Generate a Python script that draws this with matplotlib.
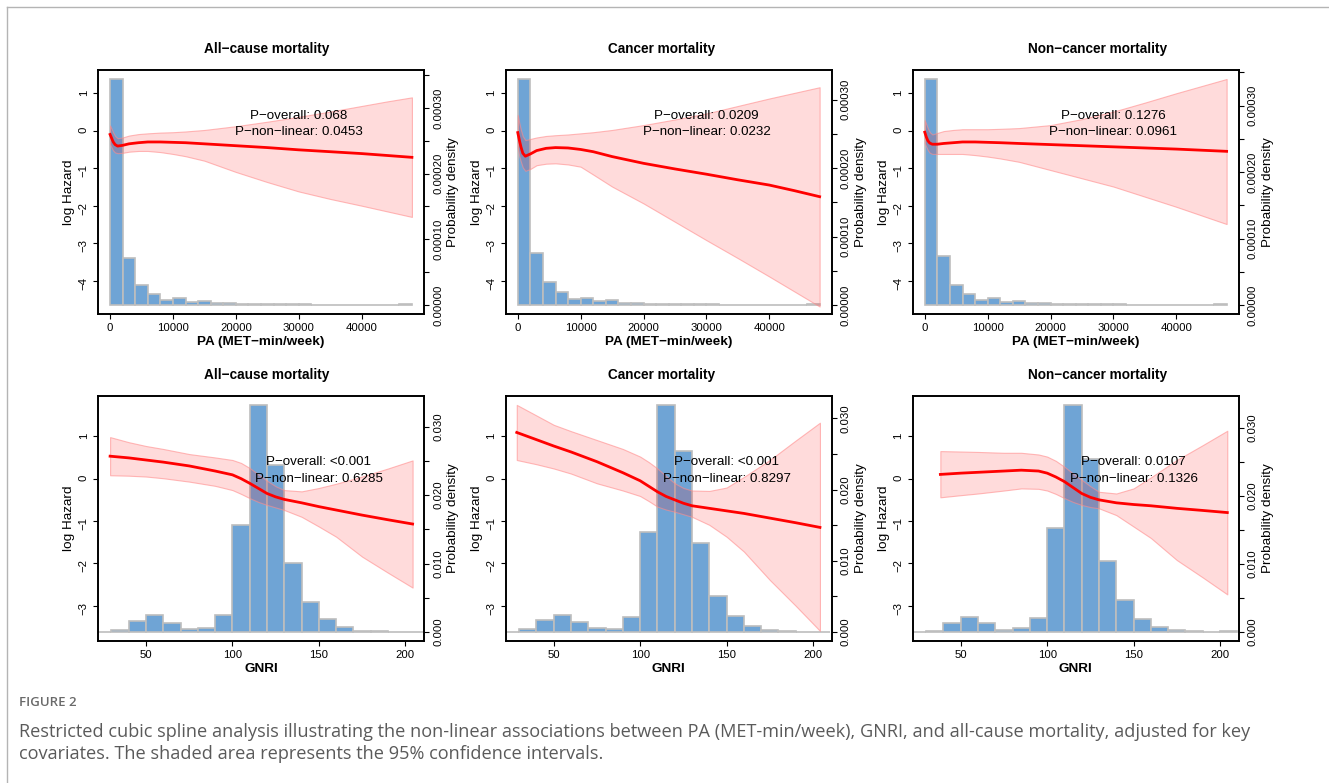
import numpy as np
import matplotlib
matplotlib.use('Agg')
import matplotlib.pyplot as plt
from matplotlib.lines import Line2D
from matplotlib.ticker import FuncFormatter

plt.rcParams['font.family'] = ['Liberation Sans', 'DejaVu Sans']

# ---------------- data ----------------
titles = ['All\u2212cause mortality', 'Cancer mortality', 'Non\u2212cancer mortality']

# PA histogram (bin width 2000, 0 - 48000), probability density
pa_edges = np.arange(0, 48000, 2000)
pa_dens_all = [3.44e-4, 7.16e-5, 3.08e-5, 1.71e-5, 7.1e-6, 1.01e-5, 5.0e-6, 6.6e-6, 3.0e-6, 3.0e-6,
               2.0e-6, 2.0e-6, 1.0e-6, 1.0e-6, 1.0e-6, 1.0e-6, 6e-7, 6e-7, 5e-7, 5e-7, 5e-7, 5e-7, 5e-7, 1.0e-6]
pa_dens_cancer = [3.30e-4, 7.6e-5, 3.39e-5, 1.89e-5, 8.2e-6, 1.06e-5, 5.8e-6, 7.3e-6, 3.4e-6, 3.4e-6,
                  2.0e-6, 2.0e-6, 1.0e-6, 1.0e-6, 1.0e-6, 1.0e-6, 6e-7, 6e-7, 5e-7, 5e-7, 5e-7, 5e-7, 5e-7, 1.0e-6]
pa_dens_noncancer = [3.40e-4, 7.37e-5, 3.04e-5, 1.69e-5, 7.0e-6, 1.1e-5, 5.0e-6, 6.0e-6, 3.0e-6, 3.0e-6,
                     2.0e-6, 2.0e-6, 1.0e-6, 1.0e-6, 1.0e-6, 1.0e-6, 6e-7, 6e-7, 5e-7, 5e-7, 5e-7, 5e-7, 5e-7, 1.0e-6]

# PA spline (log hazard with 95% CI)
pa_x = [0, 250, 500, 800, 1200, 2000, 3000, 4500, 6000, 8000, 10000, 12000, 15000, 20000,
        25000, 30000, 35000, 40000, 44000, 48000]
pa_fit_all = [-0.10, -0.20, -0.30, -0.37, -0.41, -0.39, -0.35, -0.32, -0.30, -0.30, -0.31, -0.32, -0.35, -0.40,
              -0.45, -0.51, -0.56, -0.61, -0.66, -0.71]
pa_hi_all = [0.14, 0.05, -0.05, -0.14, -0.20, -0.18, -0.13, -0.09, -0.07, -0.05, -0.04, -0.02, 0.02, 0.12,
             0.24, 0.37, 0.51, 0.66, 0.78, 0.89]
pa_lo_all = [-0.36, -0.45, -0.53, -0.58, -0.60, -0.59, -0.56, -0.54, -0.54, -0.57, -0.62, -0.68, -0.80, -1.10,
             -1.37, -1.62, -1.82, -2.00, -2.15, -2.30]
pa_fit_cancer = [-0.05, -0.25, -0.43, -0.60, -0.68, -0.62, -0.53, -0.47, -0.45, -0.46, -0.50, -0.56, -0.69, -0.87,
                 -1.02, -1.16, -1.31, -1.45, -1.60, -1.76]
pa_hi_cancer = [0.42, 0.20, 0.02, -0.15, -0.25, -0.22, -0.18, -0.14, -0.12, -0.10, -0.07, -0.04, 0.02, 0.15,
                0.30, 0.46, 0.66, 0.86, 1.01, 1.16]
pa_lo_cancer = [-0.47, -0.68, -0.83, -0.98, -1.07, -1.02, -0.92, -0.88, -0.87, -0.90, -0.96, -1.17, -1.49, -1.94,
                -2.43, -2.92, -3.40, -3.89, -4.29, -4.69]
pa_fit_noncancer = [-0.04, -0.17, -0.27, -0.33, -0.36, -0.36, -0.34, -0.32, -0.30, -0.30, -0.31, -0.32, -0.34, -0.37,
                    -0.40, -0.43, -0.46, -0.49, -0.52, -0.55]
pa_hi_noncancer = [0.28, 0.17, 0.06, -0.04, -0.10, -0.06, -0.01, 0.02, 0.04, 0.04, 0.04, 0.05, 0.07, 0.15,
                   0.31, 0.51, 0.75, 1.00, 1.19, 1.38]
pa_lo_noncancer = [-0.34, -0.43, -0.52, -0.59, -0.62, -0.62, -0.62, -0.62, -0.62, -0.65, -0.69, -0.74, -0.83, -1.05,
                   -1.27, -1.49, -1.76, -2.03, -2.26, -2.49]

# GNRI histogram (bin width 10, 20 - 210)
gnri_edges = np.arange(20, 210, 10)
gnri_dens_all = [0, 0.00034, 0.0016, 0.00253, 0.00131, 0.00044, 0.00063, 0.00248, 0.01561, 0.03317,
                 0.02447, 0.01002, 0.00433, 0.0019, 0.00073, 0.0002, 0.0001, 0.00005, 0.00005]
gnri_dens_cancer = [0, 0.000375, 0.00173, 0.00234, 0.00141, 0.00061, 0.00047, 0.00211, 0.01397, 0.03187,
                    0.0254, 0.01256, 0.00511, 0.0022, 0.00084, 0.00023, 0.0001, 0.00005, 0.00005]
gnri_dens_noncancer = [0, 0.00015, 0.00127, 0.0022, 0.00132, 0.00034, 0.00064, 0.0021, 0.0152, 0.03333,
                       0.0254, 0.0104, 0.00466, 0.00186, 0.00074, 0.00025, 0.0001, 0.00005, 0.00015]

# GNRI spline
gnri_x_all = [29.2, 40, 50, 60, 75, 90, 100, 105, 110, 115, 120, 125, 130, 140, 150, 160, 175, 190, 204.2]
gnri_fit_all = [0.53, 0.49, 0.44, 0.39, 0.30, 0.18, 0.09, 0.00, -0.11, -0.23, -0.35, -0.43, -0.49, -0.57,
                -0.66, -0.74, -0.86, -0.97, -1.07]
gnri_hi_all = [0.98, 0.86, 0.77, 0.70, 0.58, 0.50, 0.44, 0.37, 0.25, 0.10, -0.05, -0.18, -0.27, -0.30,
               -0.22, -0.12, 0.05, 0.24, 0.43]
gnri_lo_all = [0.08, 0.07, 0.05, 0.01, -0.07, -0.17, -0.27, -0.36, -0.46, -0.55, -0.62, -0.68, -0.74, -0.90,
               -1.13, -1.37, -1.84, -2.22, -2.57]
gnri_x_cancer = [28.6, 40, 50, 60, 75, 90, 100, 105, 110, 115, 120, 125, 130, 140, 150, 160, 175, 190, 204.0]
gnri_fit_cancer = [1.09, 0.92, 0.77, 0.63, 0.40, 0.14, -0.05, -0.18, -0.31, -0.42, -0.50, -0.58, -0.64, -0.70,
                   -0.76, -0.82, -0.93, -1.04, -1.15]
gnri_hi_cancer = [1.74, 1.49, 1.27, 1.12, 0.91, 0.70, 0.52, 0.39, 0.24, 0.06, -0.11, -0.22, -0.28, -0.29,
                  -0.21, 0.04, 0.44, 0.90, 1.32]
gnri_lo_cancer = [0.44, 0.34, 0.24, 0.12, -0.11, -0.28, -0.41, -0.53, -0.66, -0.73, -0.78, -0.84, -0.90, -1.09,
                  -1.37, -1.72, -2.39, -3.00, -3.59]
gnri_x_noncancer = [38.2, 50, 60, 75, 85, 95, 100, 105, 110, 115, 120, 125, 130, 140, 150, 160, 175, 190, 204.2]
gnri_fit_noncancer = [0.10, 0.13, 0.15, 0.18, 0.20, 0.18, 0.13, 0.04, -0.07, -0.21, -0.35, -0.44, -0.50, -0.57,
                      -0.61, -0.64, -0.70, -0.75, -0.80]
gnri_hi_noncancer = [0.65, 0.64, 0.63, 0.61, 0.61, 0.57, 0.52, 0.42, 0.28, 0.12, -0.03, -0.18, -0.31, -0.35,
                     -0.23, 0.03, 0.44, 0.79, 1.13]
gnri_lo_noncancer = [-0.44, -0.39, -0.35, -0.28, -0.23, -0.24, -0.28, -0.36, -0.46, -0.55, -0.62, -0.67, -0.70,
                     -0.86, -1.13, -1.40, -1.92, -2.33, -2.73]

p_overall_pa = ['0.068', '0.0209', '0.1276']
p_nonlin_pa = ['0.0453', '0.0232', '0.0961']
p_overall_gnri = ['<0.001', '<0.001', '0.0107']
p_nonlin_gnri = ['0.6285', '0.8297', '0.1326']

# ---------------- figure ----------------
W, H = 1329, 783
fig = plt.figure(figsize=(W / 100, H / 100), dpi=100)

col_left = [98, 505.7, 912.7]
ax_w = 326
title_x = [266.8, 662, 1097.5]

BAR = '#6FA4D5'
BAR_EDGE = '#BEBEBE'


def panel(px_left, px_top, px_h, edges, bw, dens, xs, fit, lo, hi, xlim, ylim, yticks,
          dstep, dfmt, xticks, xlabel, title, tx, p1, p2, ptx, pty, title_px):
    pos = [px_left / W, 1 - (px_top + px_h) / H, ax_w / W, px_h / H]
    ax = fig.add_axes(pos)
    ax2 = ax.twinx()

    # histogram on the right-hand (density) axis
    ax.bar(edges, dens, width=bw, align='edge', color=BAR, edgecolor=BAR_EDGE, linewidth=1.2)
    m = max(dens)
    ax.set_ylim(-0.04 * m, 1.04 * m)
    ax.set_xlim(*xlim)
    ax.yaxis.tick_right()
    ax.yaxis.set_label_position('right')
    ax.set_yticks(np.arange(0, 1.04 * m, dstep))
    ax.yaxis.set_major_formatter(FuncFormatter(
        lambda v, p: (dfmt % v) if int(round(v / dstep)) % 2 == 0 else ''))
    ax.set_xticks(xticks)
    ax.tick_params(axis='both', direction='out', length=3.6, width=0.8, labelsize=8.2, pad=3)
    ax.tick_params(axis='y', labelrotation=90)
    for lab in ax.get_yticklabels():
        lab.set_va('center')
    ax.set_ylabel('Probability density', fontsize=9.7)
    ax.yaxis.set_label_coords(1 + 29 / ax_w, 0.5)
    ax.yaxis.label.set_va('center')
    ax.set_xlabel(xlabel, fontsize=9.7, fontweight='bold')
    ax.xaxis.set_label_coords(0.5, -27.7 / px_h)
    ax.xaxis.label.set_va('center')

    # spline on the left-hand (log hazard) axis
    ax2.yaxis.tick_left()
    ax2.yaxis.set_label_position('left')
    ax2.fill_between(xs, lo, hi, facecolor=(1, 0, 0, 0.14), edgecolor=(1, 0.55, 0.55, 0.6), linewidth=0.8)
    ax2.plot(xs, fit, color='red', lw=2)
    ax2.set_ylim(*ylim)
    ax2.set_yticks(yticks)
    ax2.tick_params(axis='y', direction='out', length=3.6, width=0.8, labelsize=8.2, pad=3, labelrotation=90)
    ax2.set_ylabel('log Hazard', fontsize=9.7)
    ax2.yaxis.set_label_coords(-29 / ax_w, 0.5)
    ax2.yaxis.label.set_va('center')
    ax2.text(ptx, pty[0], 'P\u2212overall: ' + p1, ha='center', va='center', fontsize=9.6)
    ax2.text(ptx, pty[1], 'P\u2212non\u2212linear: ' + p2, ha='center', va='center', fontsize=9.6)

    for a in (ax, ax2):
        for s in a.spines.values():
            s.set_linewidth(1.2)
            s.set_color('black')

    fig.text(tx / W, 1 - title_px / H, title, ha='center', va='center', fontsize=9.8, fontweight='bold')


pa_dens = [pa_dens_all, pa_dens_cancer, pa_dens_noncancer]
pa_fits = [(pa_fit_all, pa_lo_all, pa_hi_all), (pa_fit_cancer, pa_lo_cancer, pa_hi_cancer),
           (pa_fit_noncancer, pa_lo_noncancer, pa_hi_noncancer)]
for i in range(3):
    f, l, h = pa_fits[i]
    panel(col_left[i], 70, 244, pa_edges, 2000, pa_dens[i], pa_x, f, l, h,
          (-1920, 49920), (-4.89, 1.62), [-4, -3, -2, -1, 0, 1],
          0.00005, '%.5f', [0, 10000, 20000, 30000, 40000], 'PA (MET\u2212min/week)',
          titles[i], title_x[i], p_overall_pa[i], p_nonlin_pa[i], 30000, (0.39, -0.03), 49.3)

gnri_dens = [gnri_dens_all, gnri_dens_cancer, gnri_dens_noncancer]
gnri_fits = [(gnri_x_all, gnri_fit_all, gnri_lo_all, gnri_hi_all),
             (gnri_x_cancer, gnri_fit_cancer, gnri_lo_cancer, gnri_hi_cancer),
             (gnri_x_noncancer, gnri_fit_noncancer, gnri_lo_noncancer, gnri_hi_noncancer)]
for i in range(3):
    x, f, l, h = gnri_fits[i]
    panel(col_left[i], 396, 245, gnri_edges, 10, gnri_dens[i], x, f, l, h,
          (22.2, 210.8), (-3.83, 1.95), [-3, -2, -1, 0, 1],
          0.005, '%.3f', [50, 100, 150, 200], 'GNRI',
          titles[i], title_x[i], p_overall_gnri[i], p_nonlin_gnri[i], 150, (0.39, -0.01), 375)

# frame lines and caption
fig.add_artist(Line2D([7 / W, 1], [1 - 7 / H, 1 - 7 / H], color='#b4b4b4', lw=1))
fig.add_artist(Line2D([7 / W, 7 / W], [0, 1 - 7 / H], color='#b4b4b4', lw=1))
cap_font = ['Open Sans', 'DejaVu Sans']
fig.text(19 / W, 1 - 703 / H, 'FIGURE 2', ha='left', va='center', fontsize=9.5,
         color='#6a6a6a', family=cap_font, fontweight='semibold')
fig.text(19 / W, 1 - 732 / H,
         'Restricted cubic spline analysis illustrating the non-linear associations between PA (MET-min/week), '
         'GNRI, and all-cause mortality, adjusted for key',
         ha='left', va='center', fontsize=13.1, color='#5a5a5a', family=cap_font)
fig.text(19 / W, 1 - 754 / H,
         'covariates. The shaded area represents the 95% confidence intervals.',
         ha='left', va='center', fontsize=13.1, color='#5a5a5a', family=cap_font)

fig.savefig('out.png', dpi=100)
